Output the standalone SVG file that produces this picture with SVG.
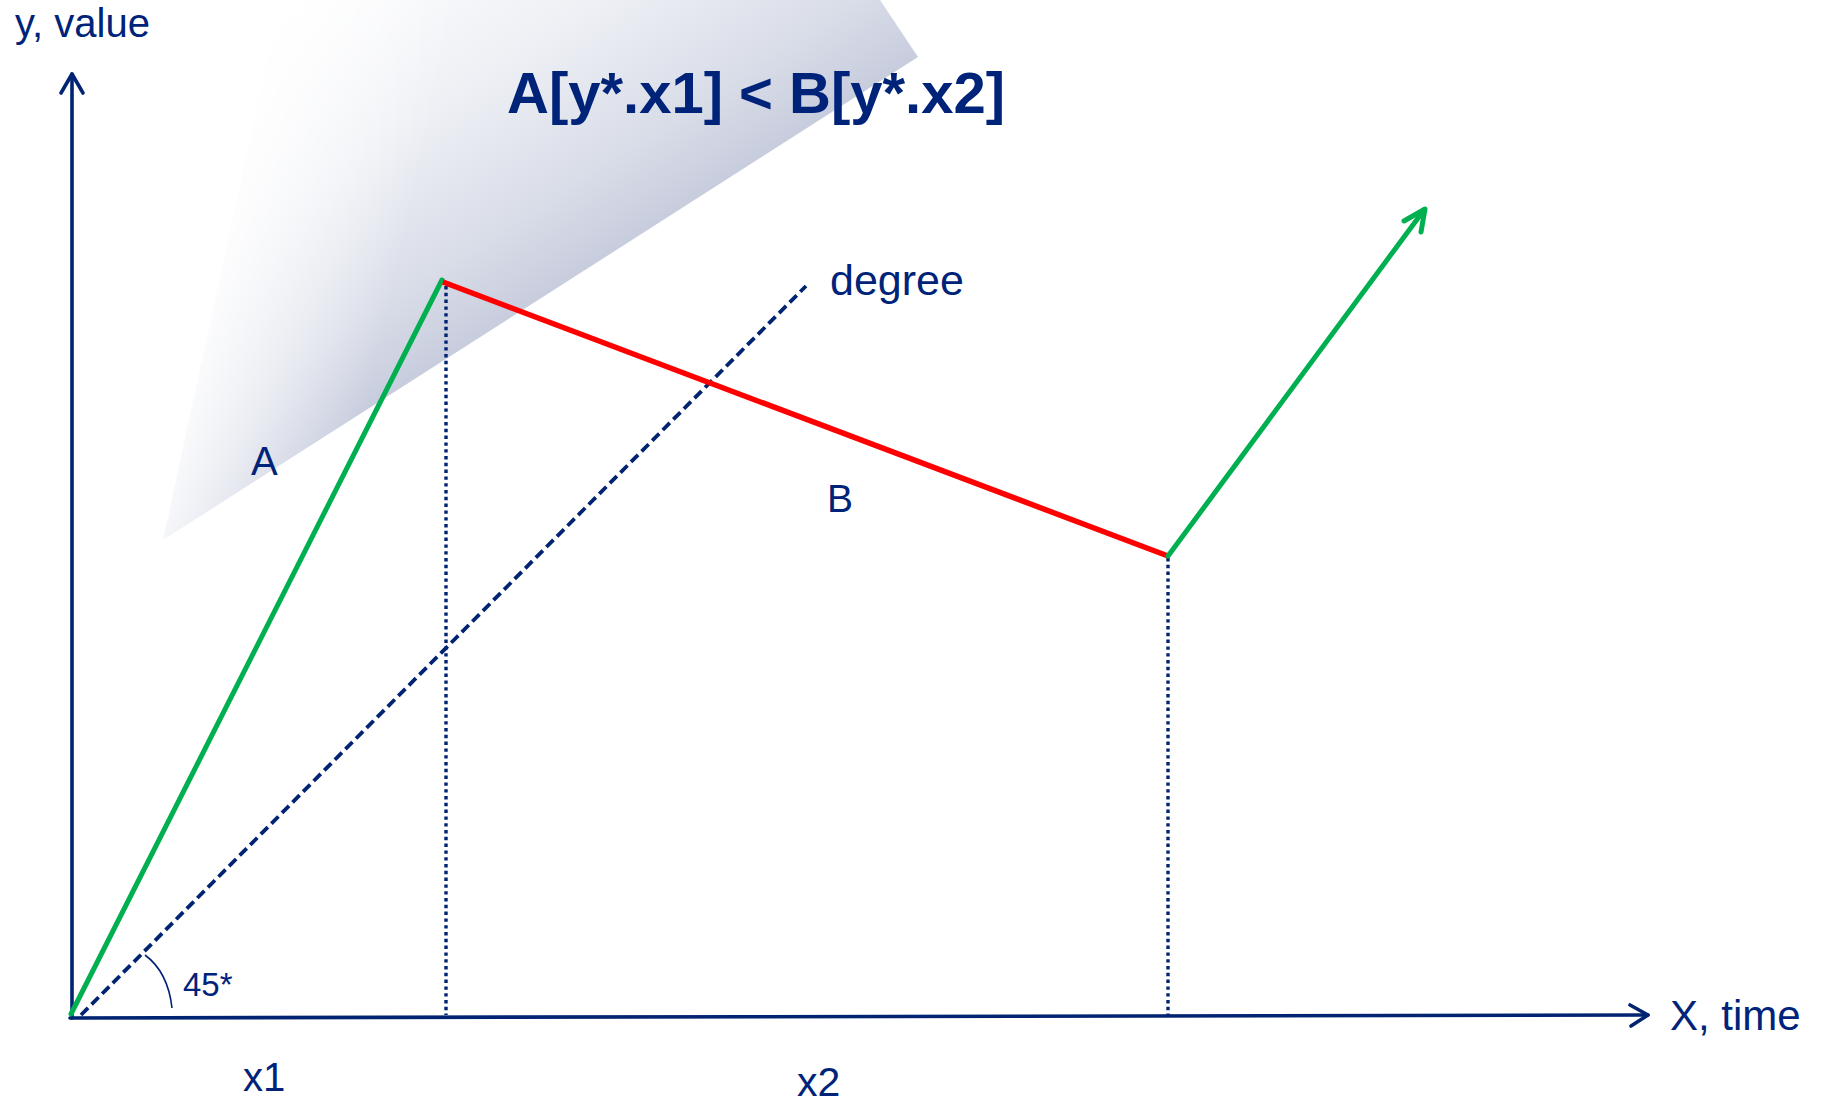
<svg xmlns="http://www.w3.org/2000/svg" width="1822" height="1102" viewBox="0 0 1822 1102">
  <defs>
    <linearGradient id="shade" gradientUnits="userSpaceOnUse" x1="324" y1="-38" x2="540" y2="298">
      <stop offset="0" stop-color="#FFFFFF"/>
      <stop offset="0.45" stop-color="#EEF0F5"/>
      <stop offset="0.8" stop-color="#D9DDE8"/>
      <stop offset="1" stop-color="#C8CDDE"/>
    </linearGradient>
    <linearGradient id="fadeLeft" gradientUnits="userSpaceOnUse" x1="195" y1="254" x2="390" y2="300">
      <stop offset="0" stop-color="#000"/>
      <stop offset="1" stop-color="#fff"/>
    </linearGradient>
    <mask id="m">
      <rect x="0" y="0" width="1822" height="1102" fill="url(#fadeLeft)"/>
    </mask>
  </defs>
  <style>
    .t { font-family: "Liberation Sans", Arial, sans-serif; fill: #00237A; }
    .axis { stroke: #002372; stroke-width: 3.6; fill: none; stroke-linecap: round; stroke-linejoin: round; }
    .dot { stroke: #002372; stroke-width: 3.4; stroke-dasharray: 3.4 3.4; fill: none; }
    .dash { stroke: #002372; stroke-width: 3.8; stroke-dasharray: 10 5; fill: none; }
    .green { stroke: #00B050; stroke-width: 5; fill: none; stroke-linecap: round; stroke-linejoin: round; }
    .red { stroke: #FF0000; stroke-width: 5.5; fill: none; }
  </style>
  <rect width="1822" height="1102" fill="#FFFFFF"/>

  <g id="shaded-area">
    <polygon points="163,540 280,0 880,0 918,57" fill="url(#shade)" mask="url(#m)"/>
  </g>

  <g id="connectors">
    <path class="axis" d="M72,1018 L72,74"/>
    <path class="axis" d="M61,93 L72,74 L83,93"/>
    <path class="axis" d="M70,1018 L1648,1015"/>
    <path class="axis" d="M1630,1005 L1648,1015 L1631,1026"/>
    <path class="dot" d="M446,286 L446,1015"/>
    <path class="dot" d="M1168,558 L1168,1015"/>
    <path class="dash" d="M81,1015 L806,286"/>
    <path d="M145,955 Q168,972 172,1008" stroke="#002372" stroke-width="1.6" fill="none"/>
    <path class="green" d="M71,1014 L442,280"/>
    <path class="red" d="M443,282 L1168,556"/>
    <path class="green" d="M1168,556 L1424,210"/>
    <path class="green" d="M1404,221 L1425,209 L1421,232"/>
  </g>

  <g id="label-y"><text class="t" x="15" y="37" font-size="40">y, value</text></g>
  <g id="title"><text class="t" x="507" y="113" font-size="58" font-weight="bold">A[y*.x1] &lt; B[y*.x2]</text></g>
  <g id="label-degree"><text class="t" x="830" y="295" font-size="43">degree</text></g>
  <g id="label-A"><text class="t" x="251" y="475" font-size="40">A</text></g>
  <g id="label-B"><text class="t" x="827" y="512" font-size="39">B</text></g>
  <g id="label-45"><text class="t" x="183" y="996" font-size="33">45*</text></g>
  <g id="label-x"><text class="t" x="1670" y="1030" font-size="42">X, time</text></g>
  <g id="label-x1"><text class="t" x="243" y="1091" font-size="40">x1</text></g>
  <g id="label-x2"><text class="t" x="797" y="1096" font-size="41">x2</text></g>
</svg>
